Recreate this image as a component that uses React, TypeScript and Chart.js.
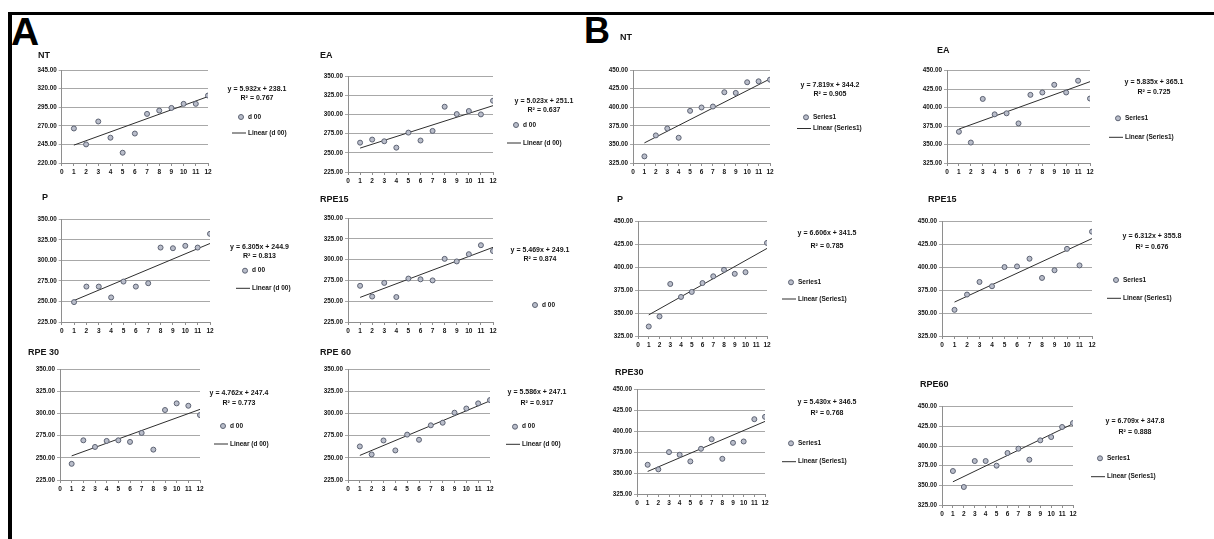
import React, { useEffect, useRef } from 'react';
import { Chart, registerables } from 'chart.js';

Chart.register(...registerables);

// ---------- data ----------
const sessions = [1, 2, 3, 4, 5, 6, 7, 8, 9, 10, 11, 12];

const chartTitles = ['NT', 'EA', 'P', 'RPE15', 'RPE 30', 'RPE 60', 'NT', 'EA', 'P', 'RPE15', 'RPE30', 'RPE60'];
const seriesNames = ['d 00', 'd 00', 'd 00', 'd 00', 'd 00', 'd 00', 'Series1', 'Series1', 'Series1', 'Series1', 'Series1', 'Series1'];
const showLinearEntry = [true, true, true, false, true, true, true, true, true, true, true, true];

const yTicksANT = [220, 245, 270, 295, 320, 345];
const yTicksA = [225, 250, 275, 300, 325, 350];
const yTicksB = [325, 350, 375, 400, 425, 450];
const yTickSets = [yTicksANT, yTicksA, yTicksA, yTicksA, yTicksA, yTicksA, yTicksB, yTicksB, yTicksB, yTicksB, yTicksB, yTicksB];

const aNT = [266.4, 245.0, 275.8, 254.0, 233.8, 259.6, 286.0, 290.5, 294.0, 299.5, 299.5, 310.7];
const aEA = [263.2, 267.2, 265.0, 256.7, 276.3, 266.0, 278.5, 310.0, 300.4, 304.4, 300.0, 317.8];
const aP = [249.2, 268.1, 268.1, 254.9, 274.2, 268.1, 272.2, 315.6, 314.8, 317.7, 315.6, 332.3];
const aRPE15 = [268.5, 255.6, 272.0, 255.0, 277.2, 276.3, 275.0, 300.9, 297.8, 306.5, 317.3, 310.3];
const aRPE30 = [243.2, 269.7, 262.2, 269.0, 269.7, 267.9, 278.0, 259.2, 303.8, 311.3, 308.6, 298.1];
const aRPE60 = [262.8, 253.8, 269.5, 258.3, 276.1, 270.3, 286.6, 289.5, 300.8, 305.5, 311.3, 315.0];
const bNT = [333.9, 362.1, 371.4, 358.9, 395.1, 399.6, 400.9, 420.1, 419.2, 433.5, 434.8, 437.0];
const bEA = [367.3, 352.7, 411.8, 390.9, 392.3, 378.6, 417.3, 420.5, 430.9, 420.5, 436.4, 412.3];
const bP = [335.4, 346.4, 381.9, 367.7, 373.2, 382.9, 390.3, 397.4, 393.0, 394.8, null, 426.8];
const bRPE15 = [353.6, 370.3, 384.1, 379.4, 400.4, 401.1, 409.5, 388.5, 396.9, 420.3, 402.2, 439.1];
const bRPE30 = [359.9, 354.4, 375.0, 371.8, 363.9, 379.0, 390.4, 367.0, 386.1, 387.7, 414.3, 417.1];
const bRPE60 = [368.2, 347.9, 380.9, 380.9, 375.0, 391.1, 396.6, 382.6, 407.2, 411.4, 424.2, 429.2];
const seriesValues = [aNT, aEA, aP, aRPE15, aRPE30, aRPE60, bNT, bEA, bP, bRPE15, bRPE30, bRPE60];

const trendSlopes = [5.932, 5.023, 6.305, 5.469, 4.762, 5.586, 7.819, 5.835, 6.606, 6.312, 5.430, 6.709];
const trendIntercepts = [238.1, 251.1, 244.9, 249.1, 247.4, 247.1, 344.2, 365.1, 341.5, 355.8, 346.5, 347.8];
const rSquared = ['0.767', '0.637', '0.813', '0.874', '0.773', '0.917', '0.905', '0.725', '0.785', '0.676', '0.768', '0.888'];

// ---------- layout (page pixels) ----------
const LAYOUT = [
  { pl: 61.7, pr: 208, pt: 70, pb: 162.7, tx: 38, ty: 56, ex: 257, ey1: 89.3, ey2: 98.3, lx: 248, ly1: 117, ly2: 133 },
  { pl: 348, pr: 493, pt: 76, pb: 171.7, tx: 320, ty: 56, ex: 544, ey1: 100.7, ey2: 110, lx: 523, ly1: 125, ly2: 143 },
  { pl: 61.7, pr: 210, pt: 219.3, pb: 321.7, tx: 42, ty: 198, ex: 259.5, ey1: 246.7, ey2: 256, lx: 252, ly1: 270.7, ly2: 288.3 },
  { pl: 348, pr: 493, pt: 218, pb: 321.7, tx: 320, ty: 200, ex: 540, ey1: 250, ey2: 259.3, lx: 542, ly1: 305, ly2: 0 },
  { pl: 60, pr: 200, pt: 369, pb: 480, tx: 28, ty: 353, ex: 239, ey1: 393.3, ey2: 403.3, lx: 230, ly1: 426, ly2: 444 },
  { pl: 348, pr: 490, pt: 369, pb: 480, tx: 320, ty: 353, ex: 537, ey1: 391.7, ey2: 402.7, lx: 522, ly1: 426.7, ly2: 444.3 },
  { pl: 633, pr: 770, pt: 70, pb: 163.3, tx: 620, ty: 38, ex: 830, ey1: 85, ey2: 94.3, lx: 813, ly1: 117.3, ly2: 128.5 },
  { pl: 947, pr: 1090, pt: 70.7, pb: 162.7, tx: 937, ty: 51, ex: 1154, ey1: 82.3, ey2: 91.7, lx: 1125, ly1: 118.3, ly2: 137.3 },
  { pl: 638, pr: 767, pt: 221.7, pb: 336, tx: 617, ty: 200, ex: 827, ey1: 233.3, ey2: 245.7, lx: 798, ly1: 282.3, ly2: 299 },
  { pl: 942, pr: 1092, pt: 221.7, pb: 336, tx: 928, ty: 200, ex: 1152, ey1: 236, ey2: 246.7, lx: 1123, ly1: 280, ly2: 298.3 },
  { pl: 637, pr: 765, pt: 389.3, pb: 494, tx: 615, ty: 373, ex: 827, ey1: 402.3, ey2: 413.3, lx: 798, ly1: 443.3, ly2: 461.7 },
  { pl: 942, pr: 1073, pt: 406.7, pb: 505, tx: 920, ty: 385, ex: 1135, ey1: 421, ey2: 431.7, lx: 1107, ly1: 458.3, ly2: 476.7 },
];

const FONT = '"Liberation Sans", Arial, sans-serif';
const TEXT = '#141414';
const GRID = '#a8a8a8';
const AXIS = '#8e8e8e';
const MARK_FILL = '#b9bdca';
const MARK_EDGE = '#5c6272';
const TREND = '#2e2e2e';

const miniTextPlugin = {
  id: 'miniText',
  afterDraw(chart: any, _args: any, o: any) {
    const ctx = chart.ctx;
    ctx.save();
    ctx.fillStyle = TEXT;
    ctx.textBaseline = 'middle';
    // title
    ctx.font = `bold 9px ${FONT}`;
    ctx.textAlign = 'left';
    ctx.fillText(o.title, o.tx, o.ty);
    // trendline equation
    ctx.font = `bold 7px ${FONT}`;
    ctx.textAlign = 'center';
    ctx.fillText(o.eq1, o.ex, o.ey1);
    ctx.fillText(o.eq2, o.ex, o.ey2);
    // legend
    ctx.font = `bold 6.5px ${FONT}`;
    ctx.textAlign = 'left';
    ctx.beginPath();
    ctx.arc(o.lx - 7, o.ly1, 2.5, 0, Math.PI * 2);
    ctx.fillStyle = MARK_FILL;
    ctx.fill();
    ctx.lineWidth = 1;
    ctx.strokeStyle = MARK_EDGE;
    ctx.stroke();
    ctx.fillStyle = TEXT;
    ctx.fillText(o.name, o.lx, o.ly1);
    if (o.showLinear) {
      ctx.beginPath();
      ctx.moveTo(o.lx - 16, o.ly2);
      ctx.lineTo(o.lx - 2, o.ly2);
      ctx.strokeStyle = TREND;
      ctx.lineWidth = 1;
      ctx.stroke();
      ctx.fillText('Linear (' + o.name + ')', o.lx, o.ly2);
    }
    ctx.restore();
  },
};

function MiniChart({ idx }: { idx: number }) {
  const ref = useRef<HTMLCanvasElement>(null);
  const L = LAYOUT[idx];
  const left = Math.round(L.pl - 36);
  const top = Math.round(L.ty - 8);
  const right = Math.round(Math.max(L.ex + 44, L.lx + 56));
  const bottom = Math.round(L.pb + 18);
  const w = right - left;
  const h = bottom - top;

  useEffect(() => {
    const slope = trendSlopes[idx];
    const icpt = trendIntercepts[idx];
    const values = seriesValues[idx];
    const pts = sessions
      .map((x, i) => ({ x, y: values[i] }))
      .filter((p) => p.y !== null);
    const x0 = sessions[0];
    const x1 = sessions[sessions.length - 1];
    const ticks = yTickSets[idx];
    const name = seriesNames[idx];
    const chart = new Chart(ref.current as HTMLCanvasElement, {
      type: 'scatter',
      data: {
        datasets: [
          {
            label: name,
            data: pts as any,
            pointStyle: 'circle',
            pointRadius: 2.5,
            backgroundColor: MARK_FILL,
            borderColor: MARK_EDGE,
            borderWidth: 1,
          },
          {
            label: 'Linear (' + name + ')',
            type: 'line',
            data: [
              { x: x0, y: slope * x0 + icpt },
              { x: x1, y: slope * x1 + icpt },
            ],
            borderColor: TREND,
            borderWidth: 1,
            pointRadius: 0,
            fill: false,
          } as any,
        ],
      },
      options: {
        animation: false,
        responsive: false,
        events: [],
        layout: { padding: { left: 0, top: L.pt - top, right: right - L.pr, bottom: 0 } },
        plugins: {
          legend: { display: false },
          title: { display: false },
          tooltip: { enabled: false },
          miniText: {
            title: chartTitles[idx],
            tx: L.tx - left,
            ty: L.ty - top,
            eq1: `y = ${slope.toFixed(3)}x + ${icpt.toFixed(1)}`,
            eq2: `R² = ${rSquared[idx]}`,
            ex: L.ex - left,
            ey1: L.ey1 - top,
            ey2: L.ey2 - top,
            name,
            lx: L.lx - left,
            ly1: L.ly1 - top,
            ly2: L.ly2 - top,
            showLinear: showLinearEntry[idx],
          },
        } as any,
        scales: {
          x: {
            type: 'linear',
            min: 0,
            max: 12,
            afterFit: (s: any) => {
              s.height = 18;
            },
            ticks: {
              stepSize: 1,
              autoSkip: false,
              maxRotation: 0,
              padding: 2,
              color: TEXT,
              font: { size: 6.5, weight: 'bold', family: FONT },
            },
            grid: { drawOnChartArea: false, drawTicks: true, tickLength: 3, color: AXIS },
            border: { display: true, color: AXIS },
          },
          y: {
            type: 'linear',
            min: ticks[0],
            max: ticks[ticks.length - 1],
            afterFit: (s: any) => {
              s.width = L.pl - left;
            },
            afterBuildTicks: (s: any) => {
              s.ticks = ticks.map((v) => ({ value: v }));
            },
            ticks: {
              padding: 2,
              color: TEXT,
              font: { size: 6.3, weight: 'bold', family: FONT },
              callback: (v: any) => Number(v).toFixed(2),
            },
            grid: { color: GRID, drawTicks: true, tickLength: 3 },
            border: { display: true, color: AXIS },
          },
        },
      } as any,
      plugins: [miniTextPlugin],
    });
    return () => chart.destroy();
  }, []);

  return (
    <canvas
      ref={ref}
      width={w}
      height={h}
      style={{ position: 'absolute', left, top, width: w, height: h }}
    />
  );
}

export default function App() {
  return (
    <div
      style={{
        position: 'fixed',
        left: 0,
        top: 0,
        width: 1214,
        height: 539,
        background: '#ffffff',
        overflow: 'hidden',
      }}
    >
      <div style={{ position: 'absolute', left: 8, top: 12, width: 1206, height: 3, background: '#000' }} />
      <div style={{ position: 'absolute', left: 8, top: 12, width: 4, height: 527, background: '#000' }} />
      <div
        style={{
          position: 'absolute',
          left: 11,
          top: 12,
          fontFamily: FONT,
          fontWeight: 'bold',
          fontSize: 39,
          lineHeight: '39px',
          color: '#000',
        }}
      >
        A
      </div>
      <div
        style={{
          position: 'absolute',
          left: 584,
          top: 13,
          fontFamily: FONT,
          fontWeight: 'bold',
          fontSize: 36,
          lineHeight: '36px',
          color: '#000',
        }}
      >
        B
      </div>
      {LAYOUT.map((_, i) => (
        <MiniChart key={i} idx={i} />
      ))}
    </div>
  );
}
